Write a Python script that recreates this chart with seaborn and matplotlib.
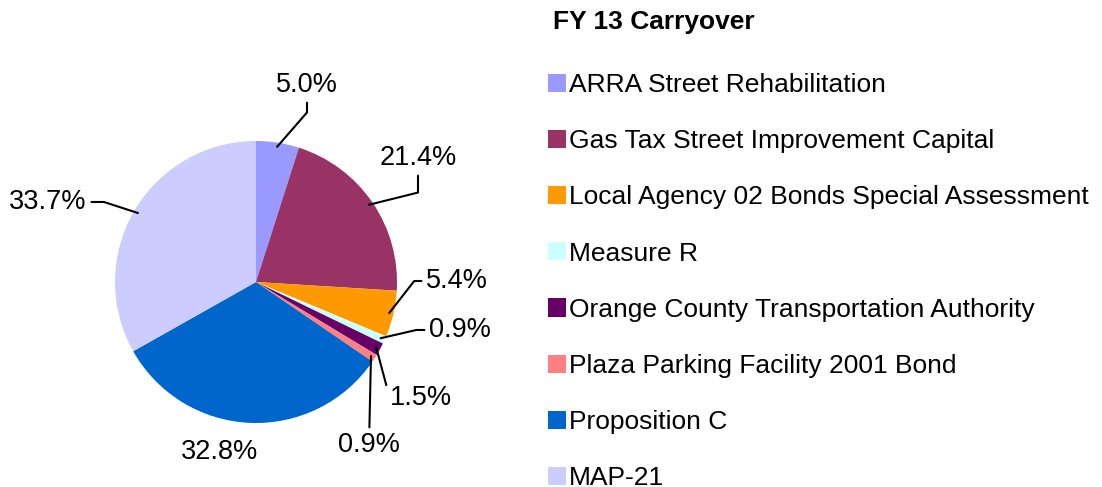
import numpy as np
import matplotlib.pyplot as plt
import seaborn as sns

# data
funds = ['ARRA Street Rehabilitation', 'Gas Tax Street Improvement Capital',
         'Local Agency 02 Bonds Special Assessment', 'Measure R',
         'Orange County Transportation Authority', 'Plaza Parking Facility 2001 Bond',
         'Proposition C', 'MAP-21']
shares = [5.0, 21.4, 5.4, 0.9, 1.5, 0.9, 32.8, 33.7]
colors = ['#9999FF', '#993366', '#FF9900', '#CCFFFF', '#660066', '#FF8080', '#0066CC', '#CCCCFF']

sns.set_theme(style='white')
plt.rcParams['font.family'] = ['Liberation Sans', 'DejaVu Sans']
plt.rcParams['text.color'] = 'black'

W, H = 1102, 487
fig = plt.figure(figsize=(W / 100, H / 100), dpi=100)
cx, cy, r = 256, 282, 141
ax = fig.add_axes([(cx - r) / W, (H - cy - r) / H, 2 * r / W, 2 * r / H])
wedges, _ = ax.pie(shares, colors=colors, startangle=90, counterclock=False,
                   radius=1, wedgeprops=dict(linewidth=0))
ax.set_xlim(-1, 1)
ax.set_ylim(-1, 1)
ax.axis('off')


def px(x, y):
    return ((x - cx) / r, (cy - y) / r)


# label pixel position, connection (angleA, angleB) or None for straight / no line
label_pos = [(307, 85), (418, 158), (457, 281), (460, 330), (421, 398), (369, 445), (220, 452), (48, 202)]
conn = [(90, 49), (90, 14), (0, 52), (0, 13), (0, 105), 'straight', None, (0, -18)]
fs = 19.5

for w, v, pos, c in zip(wedges, shares, label_pos, conn):
    mid = np.deg2rad((w.theta1 + w.theta2) / 2)
    anchor = (0.97 * np.cos(mid), 0.97 * np.sin(mid))
    txt = f'{v:.1f}%'
    if c is None:
        ax.text(*px(*pos), txt, ha='center', va='center', fontsize=fs, color='black', clip_on=False)
        continue
    if c == 'straight':
        cs = 'arc3'
    else:
        cs = f'angle,angleA={c[0]},angleB={c[1]},rad=0'
    ax.annotate(txt, xy=anchor, xytext=px(*pos), ha='center', va='center',
                fontsize=fs, color='black', annotation_clip=False,
                arrowprops=dict(arrowstyle='-', color='black', lw=1.5,
                                connectionstyle=cs, shrinkA=1, shrinkB=0))

fig.text(553 / W, 1 - 22 / H, 'FY 13 Carryover', fontsize=19, fontweight='bold',
         color='black', ha='left', va='center')
leg = fig.legend(wedges, funds, loc='upper left', bbox_to_anchor=(548 / W, 1 - 73 / H),
                 frameon=False, fontsize=19, handlelength=0.68, handleheight=0.68,
                 handletextpad=0.12, labelspacing=1.22, borderpad=0, borderaxespad=0)
for t in leg.get_texts():
    t.set_color('black')

fig.savefig('out.png', dpi=100)
